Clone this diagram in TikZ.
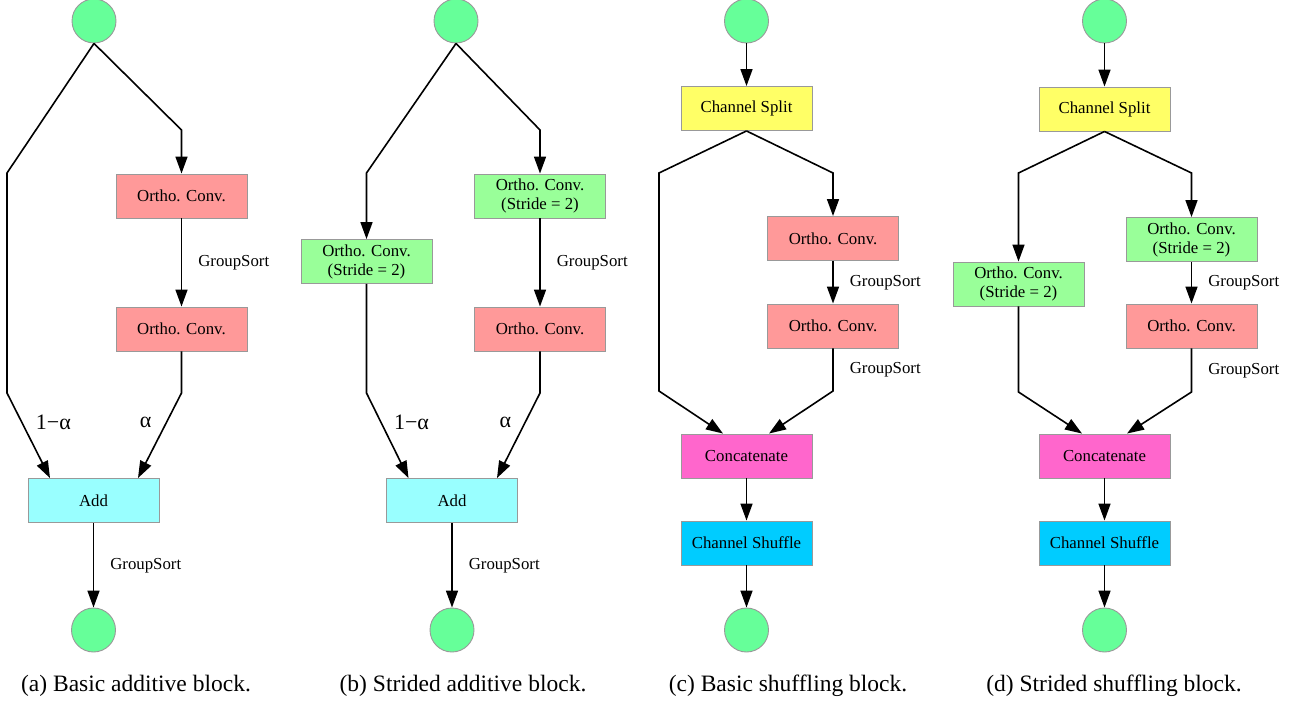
\documentclass[tikz,border=0pt]{standalone}
\usepackage{fontspec}
\setmainfont{Liberation Serif}
\usetikzlibrary{arrows.meta}
\definecolor{ioc}{HTML}{66FF99}
\definecolor{pinkc}{HTML}{FF9999}
\definecolor{greenc}{HTML}{99FF99}
\definecolor{addc}{HTML}{99FFFF}
\definecolor{splitc}{HTML}{FFFF66}
\definecolor{catc}{HTML}{FF66CC}
\definecolor{shufc}{HTML}{00CCFF}
\definecolor{edgec}{HTML}{999999}
\tikzset{
  boxbase/.style={draw=edgec, line width=0.9pt, rectangle, minimum width=131pt, minimum height=44pt,
    inner sep=0pt, align=center, font=\fontsize{16.8}{19}\selectfont},
  io/.style={draw=edgec, line width=0.9pt, circle, fill=ioc, minimum size=44pt, inner sep=0pt},
  conv/.style={boxbase, fill=pinkc},
  sconv/.style={boxbase, fill=greenc},
  addb/.style={boxbase, fill=addc},
  splitb/.style={boxbase, fill=splitc},
  catb/.style={boxbase, fill=catc},
  shufb/.style={boxbase, fill=shufc},
  arr/.style={line width=1.6pt, line join=miter, -{Triangle[length=17pt,width=12pt]}},
  gs/.style={midway, anchor=west, xshift=16pt, inner sep=0pt, font=\fontsize{16.8}{19}\selectfont},
  lbl/.style={inner sep=0pt, font=\fontsize{22}{24}\selectfont},
  captext/.style={anchor=base, inner sep=0pt, font=\fontsize{23.5}{26}\selectfont},
}
\begin{document}
\begin{tikzpicture}[x=1pt,y=-1pt]
\useasboundingbox (0,0) rectangle (1297,703);
% ---------- (a) ----------
\node[io] (a0) at (94,21) {};
\node[conv] (a1) at (181.5,196) {Ortho. Conv.};
\node[conv] (a2) at (181.5,329) {Ortho. Conv.};
\node[addb] (a3) at (93.5,500.5) {Add};
\node[io] (a4) at (93.5,630) {};
\draw[arr] (a0.south) -- (7,173) -- (7,393) -- node[pos=.35,anchor=west,xshift=13pt,lbl]{1−α} ([xshift=-43.5pt]a3.north);
\draw[arr] (a0.south) -- (181.5,130) -- (a1.north);
\draw[arr] (a1) -- node[gs]{GroupSort} (a2);
\draw[arr] (a2.south) -- (181.5,393) -- node[pos=.35,anchor=east,xshift=-14pt,lbl]{α} ([xshift=44.5pt]a3.north);
\draw[arr] (a3) -- node[gs]{GroupSort} (a4);
\node[captext] (capa) at (136,691) {(a) Basic additive block.};
% ---------- (b) ----------
\node[io] (b0) at (456,21) {};
\node[sconv] (b1) at (366.5,261.5) {Ortho. Conv.\\(Stride = 2)};
\node[sconv] (b2) at (540,196) {Ortho. Conv.\\(Stride = 2)};
\node[conv] (b3) at (540,329) {Ortho. Conv.};
\node[addb] (b4) at (452,500.5) {Add};
\node[io] (b5) at (452,630) {};
\draw[arr] (b0.south) -- (366.5,173) -- (b1.north);
\draw[arr] (b0.south) -- (540,130) -- (b2.north);
\draw[arr] (b2) -- node[gs]{GroupSort} (b3);
\draw[arr] (b1.south) -- (366.5,393) -- node[pos=.35,anchor=west,xshift=12pt,lbl]{1−α} ([xshift=-43.5pt]b4.north);
\draw[arr] (b3.south) -- (540,393) -- node[pos=.35,anchor=east,xshift=-13pt,lbl]{α} ([xshift=45pt]b4.north);
\draw[arr] (b4) -- node[gs]{GroupSort} (b5);
\node[captext] (capb) at (463,691) {(b) Strided additive block.};
% ---------- (c) ----------
\node[io] (c0) at (746.5,21) {};
\node[splitb] (c1) at (746.5,108.5) {Channel Split};
\node[conv] (c2) at (833,238.5) {Ortho. Conv.};
\node[conv] (c3) at (833,326) {Ortho. Conv.};
\node[catb] (c4) at (746.5,456) {Concatenate};
\node[shufb] (c5) at (746.5,543) {Channel Shuffle};
\node[io] (c6) at (746.5,630) {};
\draw[arr] (c0) -- (c1);
\draw[arr] (c1.south) -- (659,173) -- (659,391) -- ([xshift=-23.5pt]c4.north);
\draw[arr] (c1.south) -- (833,173) -- (c2.north);
\draw[arr] (c2) -- node[gs]{GroupSort} (c3);
\draw[arr] (c3.south) -- node[gs]{GroupSort} (833,391) -- ([xshift=22.5pt]c4.north);
\draw[arr] (c4) -- (c5);
\draw[arr] (c5) -- (c6);
\node[captext] (capc) at (788,691) {(c) Basic shuffling block.};
% ---------- (d) ----------
\node[io] (d0) at (1104.5,21) {};
\node[splitb] (d1) at (1104.5,109) {Channel Split};
\node[sconv] (d2) at (1018.5,284) {Ortho. Conv.\\(Stride = 2)};
\node[sconv] (d3) at (1191.5,239.5) {Ortho. Conv.\\(Stride = 2)};
\node[conv] (d4) at (1191.5,326) {Ortho. Conv.};
\node[catb] (d5) at (1104.5,456) {Concatenate};
\node[shufb] (d6) at (1104.5,543) {Channel Shuffle};
\node[io] (d7) at (1104.5,630) {};
\draw[arr] (d0) -- (d1);
\draw[arr] (d1.south) -- (1018.5,173) -- (d2.north);
\draw[arr] (d1.south) -- (1191.5,173) -- (d3.north);
\draw[arr] (d3) -- node[gs]{GroupSort} (d4);
\draw[arr] (d2.south) -- (1018.5,392) -- ([xshift=-22.5pt]d5.north);
\draw[arr] (d4.south) -- node[gs]{GroupSort} (1191.5,392) -- ([xshift=22.5pt]d5.north);
\draw[arr] (d5) -- (d6);
\draw[arr] (d6) -- (d7);
\node[captext] (capd) at (1114,691) {(d) Strided shuffling block.};
\end{tikzpicture}
\end{document}
